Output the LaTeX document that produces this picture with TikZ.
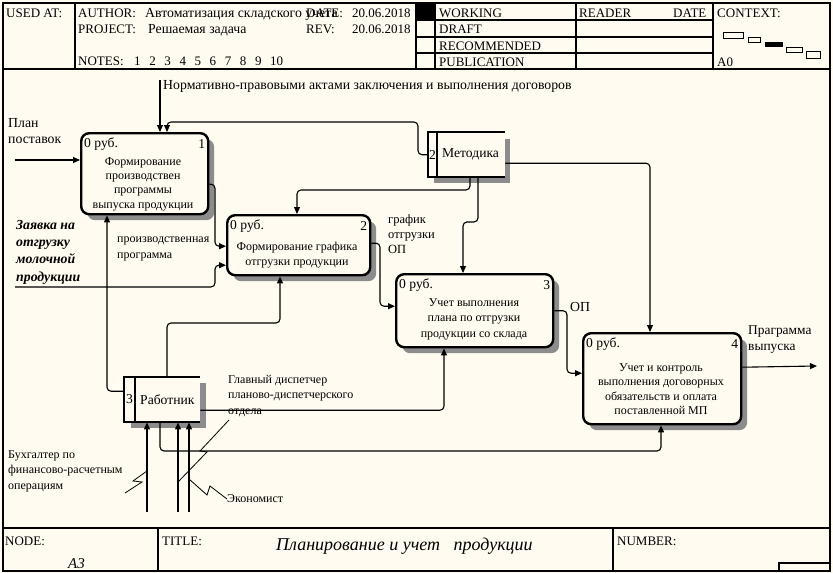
\documentclass[tikz,border=0pt]{standalone}
\usepackage{fontspec}
\setmainfont{Liberation Serif}
\usetikzlibrary{arrows.meta,calc,shadows}
\definecolor{bg}{HTML}{FFFBF0}
\definecolor{shd}{HTML}{8C8C8C}
\begin{document}
\begin{tikzpicture}[x=1pt,y=-1pt,
  fr/.style={line width=1.3pt},
  hd/.style={font=\fontsize{13}{15}\selectfont, anchor=base west, inner sep=0pt},
  hdc/.style={font=\fontsize{13.8}{15}\selectfont, anchor=base west, inner sep=0pt},
  rbox/.style={draw, line width=2.4pt, rounded corners=8pt, fill=bg, anchor=north west, inner sep=0pt,
     drop shadow={shadow xshift=6pt, shadow yshift=-6pt, fill=shd, opacity=1}},
  tbox/.style={anchor=north west, inner sep=0pt},
  btxt/.style={font=\fontsize{12}{14.3}\selectfont, align=center, inner sep=0pt},
  cst/.style={font=\fontsize{13.6}{15}\selectfont, anchor=west, inner sep=0pt},
  bnum/.style={font=\fontsize{13.6}{15}\selectfont, anchor=east, inner sep=0pt},
  lab/.style={font=\fontsize{12}{15.5}\selectfont, align=left, anchor=west, inner sep=0pt},
  labb/.style={font=\fontsize{13.8}{16}\selectfont, align=left, anchor=west, inner sep=0pt},
  labz/.style={font=\fontsize{13.8}{17.3}\selectfont\bfseries\itshape, align=left, anchor=west, inner sep=0pt},
  arr/.style={line width=1.1pt, rounded corners=4pt, -{Triangle[length=7pt,width=6pt]}},
  sq/.style={line width=0.8pt},
  tun/.style={line width=2.4pt},
]
\useasboundingbox (0,0) rectangle (833,573);
\fill[bg] (0,0) rectangle (833,573);

% ---------- frame and header ----------
\draw[fr] (3,3) rectangle (830,571);
\draw[fr] (3,69) -- (830,69);
\draw[fr] (75,3) -- (75,69);
\draw[fr] (416,3) -- (416,69);
\draw[fr] (435,3) -- (435,69);
\draw[fr] (576,3) -- (576,69);
\draw[fr] (713,3) -- (713,69);
\foreach \yy in {20,37,53} \draw[fr] (416,\yy) -- (713,\yy);
\fill (416,3) rectangle (435,20);

\node[hd] (usedat) at (6,17) {USED AT:};
\node[hd] (author) at (78,17) {AUTHOR:};
\node[hdc] (authorv) at (145,17) {Автоматизация складского учета};
\node[hd] (date) at (306,17) {DATE:};
\node[hd] (datev) at (352,17) {20.06.2018};
\node[hd] (proj) at (78,33) {PROJECT:};
\node[hdc] (projv) at (148,33) {Решаемая задача};
\node[hd] (rev) at (306,33) {REV:};
\node[hd] (revv) at (352,33) {20.06.2018};
\node[hd] (notes) at (78,65) {NOTES:};
\foreach \i [count=\k from 0] in {1,...,10} \node[hd] (note\i) at (134+15.1*\k,65) {\i};

\node[hd] (working) at (439,17) {WORKING};
\node[hd] (draft) at (439,33) {DRAFT};
\node[hd] (recom) at (439,50) {RECOMMENDED};
\node[hd] (publ) at (439,66) {PUBLICATION};
\node[hd] (reader) at (579,17) {READER};
\node[hd] (rdate) at (673,17) {DATE};
\node[hd] (context) at (717,17) {CONTEXT:};
\node[hd] (a0) at (717,66) {A0};
\draw[line width=1pt] (723,32) rectangle (743,38);
\draw[line width=1pt] (748,37) rectangle (760,42);
\fill (765,42) rectangle (783,47);
\draw[line width=1pt] (786,47) rectangle (802,52);
\draw[line width=1pt] (806,51) rectangle (820,58);

% ---------- footer ----------
\draw[fr] (3,528) -- (830,528);
\draw[fr] (158,528) -- (158,571);
\draw[fr] (613,528) -- (613,571);
\draw[fr] (779,571) -- (779,563) -- (830,563);
\node[hd] (nodel) at (5,545) {NODE:};
\node[hd, font=\fontsize{15}{17}\selectfont\itshape] (nodev) at (68,568) {A3};
\node[hd] (titlel) at (162,545) {TITLE:};
\node[hd, font=\fontsize{18}{20}\selectfont\itshape] (titlev) at (276,550) {Планирование и учет\ \ \ продукции};
\node[hd] (numberl) at (617,545) {NUMBER:};

% ---------- activity boxes ----------
\node[rbox, minimum width=127pt, minimum height=81pt] (b1) at (80,132) {};
\node[btxt] (b1t) at (143,184) {Формирование\\производствен\\программы\\выпуска продукции};
\node[cst] (b1c) at ([xshift=4pt,yshift=-12pt]b1.north west) {0 руб.};
\node[bnum] (b1n) at ([xshift=-4pt,yshift=-12pt]b1.north east) {1};

\node[rbox, minimum width=143pt, minimum height=60pt] (b2) at (226,214) {};
\node[btxt] (b2t) at (297,255) {Формирование графика\\отгрузки продукции};
\node[cst] (b2c) at ([xshift=4pt,yshift=-12pt]b2.north west) {0 руб.};
\node[bnum] (b2n) at ([xshift=-4pt,yshift=-12pt]b2.north east) {2};

\node[rbox, minimum width=157pt, minimum height=73pt] (b3) at (395,273) {};
\node[btxt, font=\fontsize{12}{15.5}\selectfont] (b3t) at (474,319) {Учет выполнения\\плана по отгрузки\\продукции со склада};
\node[cst] (b3c) at ([xshift=4pt,yshift=-12pt]b3.north west) {0 руб.};
\node[bnum] (b3n) at ([xshift=-4pt,yshift=-12pt]b3.north east) {3};

\node[rbox, minimum width=158pt, minimum height=91pt] (b4) at (582,332) {};
\node[btxt] (b4t) at (661,389) {Учет и контроль\\выполнения договорных\\обязательств и оплата\\поставленной МП};
\node[cst] (b4c) at ([xshift=4pt,yshift=-12pt]b4.north west) {0 руб.};
\node[bnum] (b4n) at ([xshift=-4pt,yshift=-12pt]b4.north east) {4};

% ---------- tunnel boxes ----------
\node[tbox, minimum width=77pt, minimum height=45pt] (meth) at (428,132) {};
\fill[shd] (505,139) rectangle (510,183);
\fill[shd] (434,177) rectangle (510,183);
\draw[tun] (505,132) -- (428,132) -- (428,177) -- (505,177);
\draw[tun] (437,132) -- (437,177);
\node[cst, anchor=center] (methn) at (432.5,154.5) {2};
\node[cst] (metht) at (442,154.5) {Методика};

\node[tbox, minimum width=76pt, minimum height=45pt] (work) at (124,377) {};
\fill[shd] (200,383) rectangle (206,428);
\fill[shd] (131,422) rectangle (206,428);
\draw[tun] (200,377) -- (124,377) -- (124,422) -- (200,422);
\draw[tun] (135,377) -- (135,422);
\node[cst, anchor=center] (workn) at (129.5,399.5) {3};
\node[cst] (workt) at (140,399.5) {Работник};

% ---------- labels ----------
\node[labb] (lnorm) at (163,86) {Нормативно-правовыми актами заключения и выполнения договоров};
\node[labb] (lplan) at (8,131) {План\\поставок};
\node[lab] (lprog) at (117,249) {производственная\\программа};
\node[labz] (lzay) at (16,252) {Заявка на\\отгрузку\\молочной\\продукции};
\node[lab, font=\fontsize{12.5}{15}\selectfont] (lgraf) at (388,234) {график\\отгрузки\\ОП};
\node[labb] (lop) at (570,307) {ОП};
\node[labb, font=\fontsize{13.4}{16}\selectfont] (lprg) at (748,340) {Праграмма\\выпуска};
\node[lab] (lgl) at (228,396) {Главный диспетчер\\планово-диспетчерского\\отдела};
\node[lab] (lbuh) at (8,471) {Бухгалтер по\\финансово-расчетным\\операциям};
\node[lab] (lek) at (227,499) {Экономист};

% ---------- free ends ----------
\coordinate (cin) at (160,80);
\coordinate (pin) at (15,160);
\coordinate (zin) at (15,287);
\coordinate (pout) at (817,366);
\coordinate (m1) at (147,512);
\coordinate (m2) at (178,512);
\coordinate (m3) at (189,512);

% ---------- connectors ----------
\draw[arr] (cin) -- (cin |- b1.north);
\draw[arr] (meth.west) -| (418,122) -| ([xshift=87pt]b1.north west);
\draw[arr] ([xshift=42pt]meth.south west) |- (380,190) -| ([xshift=71pt]b2.north west);
\draw[arr] ([xshift=50pt]meth.south west) |- (470,222) -| ([xshift=68pt]b3.north west);
\draw[arr] ([yshift=-8.5pt]meth.east) -| ([xshift=68pt]b4.north west);
\draw[arr] (pin) -- (pin -| b1.west);
\draw[arr] ([yshift=-10.5pt]b1.east) -| (215,230) |- ([yshift=-1pt]b2.west);
\draw[arr] (zin) -| (215,276) |- ([yshift=-20pt]b2.west);
\draw[arr] ([yshift=2pt]b2.east) -| (380,270) |- ([yshift=4.5pt]b3.west);
\draw[arr] (b3.east) -| (567,340) |- ([yshift=5.5pt]b4.west);
\draw[arr] ([yshift=11.5pt]b4.east) -- (pout);
\draw[arr] ([yshift=8.5pt]work.west) -| ([xshift=27pt]b1.south west);
\draw[arr] ([xshift=43pt]work.north west) |- (230,323) -| ([xshift=54pt]b2.south west);
\draw[arr] ([yshift=-10.5pt]work.east) -| ([xshift=49pt]b3.south west);
\draw[arr] ([xshift=36pt]work.south west) |- (400,451) -| ([xshift=79pt]b4.south west);
\draw[arr] (m1) -- (m1 |- work.south);
\draw[arr] (m2) -- (m2 |- work.south);
\draw[arr] (m3) -- (m3 |- work.south);

% ---------- squiggles ----------
\coordinate (sqb) at (125,493);
\coordinate (sqg) at (229,420);
\draw[sq] (sqb) -- (142,482) -- (133,481) -- (m1 |- 0,471);
\draw[sq] (sqg) -- (200,451) -- (207,452) -- (m2 |- 0,482);
\draw[sq] (lek.west) -- (210,486) -- (207,495) -- (m3 |- 0,479);
\end{tikzpicture}
\end{document}
